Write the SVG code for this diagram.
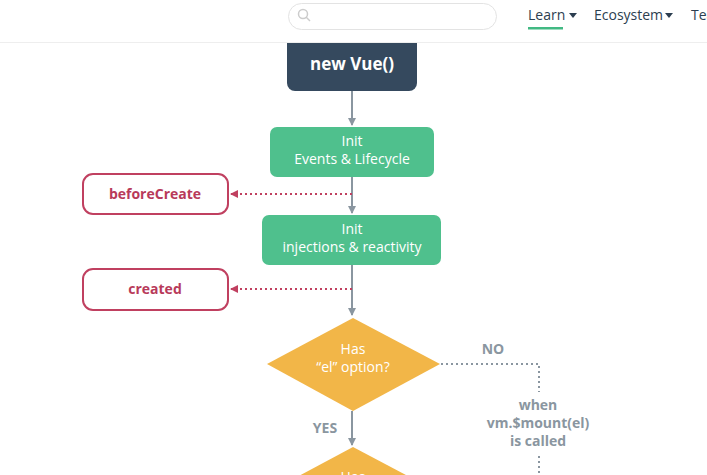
<svg xmlns="http://www.w3.org/2000/svg" width="707" height="475" viewBox="0 0 707 475">
<style>
text{font-family:"Open Sans","Noto Sans",sans-serif;text-anchor:middle}
.w{fill:#fff;font-size:14px}
.hook{fill:#fff;stroke:#c04060;stroke-width:2}
.hk{fill:#b83a5a;font-size:14px;font-weight:bold}
.g{fill:#4fc08d}
.ln{stroke:#8a96a0;stroke-width:2;fill:none}
.dl{stroke:#c04060;stroke-width:2;stroke-dasharray:2 3;fill:none}
.gd{stroke:#8a96a0;stroke-width:2;stroke-dasharray:2 3;fill:none}
.lbl{fill:#8a96a0;font-size:14px;font-weight:bold}
</style>
<defs>
<marker id="a" markerWidth="8" markerHeight="8" refX="7" refY="4" orient="auto" markerUnits="userSpaceOnUse"><path d="M0,0L8,4L0,8z" fill="#8a96a0"/></marker>
<marker id="r" markerWidth="8" markerHeight="8" refX="7" refY="4" orient="auto" markerUnits="userSpaceOnUse"><path d="M0,0L8,4L0,8z" fill="#c04060"/></marker>
</defs>
<rect width="707" height="475" fill="#fff"/>
<g id="connectors">
<path class="ln" d="M352,91V125" marker-end="url(#a)"/>
<path class="ln" d="M352,177V213" marker-end="url(#a)"/>
<path class="ln" d="M352,265V315" marker-end="url(#a)"/>
<path class="ln" d="M352,411V445" marker-end="url(#a)"/>
<path class="dl" d="M352,194H231" marker-end="url(#r)"/>
<path class="dl" d="M352,289H231" marker-end="url(#r)"/>
<path class="gd" d="M441,364H539V392"/>
<path class="gd" d="M539,456V475"/>
<text class="lbl" x="493" y="354">NO</text>
<text class="lbl" x="325" y="433">YES</text>
<text class="lbl" x="538" y="410">when</text>
<text class="lbl" x="538" y="428">vm.$mount(el)</text>
<text class="lbl" x="538" y="446">is called</text>
</g>
<g id="newvue"><rect x="287" y="30" width="130" height="61" rx="8" fill="#35495e"/><text x="352" y="70" fill="#fff" font-size="17" font-weight="bold">new Vue()</text></g>
<g id="init1"><rect class="g" x="270" y="127" width="164" height="50" rx="7"/><text class="w" x="352" y="146">Init</text><text class="w" x="352" y="164">Events &amp; Lifecycle</text></g>
<g id="beforeCreate"><rect class="hook" x="83" y="174" width="145" height="40" rx="10"/><text class="hk" x="155" y="199">beforeCreate</text></g>
<g id="init2"><rect class="g" x="262" y="215" width="179" height="50" rx="7"/><text class="w" x="352" y="234">Init</text><text class="w" x="352" y="252">injections &amp; reactivity</text></g>
<g id="created"><rect class="hook" x="83" y="269" width="145" height="41" rx="10"/><text class="hk" x="155" y="294">created</text></g>
<g id="hasEl"><path d="M353,318L440,364L353,411L267,364z" fill="#f2b648"/><text class="w" x="353" y="354">Has</text><text class="w" x="353" y="372">“el” option?</text></g>
<g id="hasTemplate"><path d="M353,447L440,493L353,540L267,493z" fill="#f2b648"/><text class="w" x="353" y="482">Has</text></g>
<g id="nav">
<rect x="0" y="0" width="707" height="42" fill="#fff"/>
<line x1="0" y1="42.5" x2="707" y2="42.5" stroke="#eee"/>
<rect x="288.5" y="3.5" width="208" height="26" rx="13" fill="#fff" stroke="#e3e3e3"/>
<circle cx="303" cy="14" r="4.5" fill="none" stroke="#ccc" stroke-width="1.5"/><path d="M306,17L310,21" stroke="#ccc" stroke-width="1.5"/>
<text x="528" y="20" font-size="14" fill="#2c3e50" style="text-anchor:start">Learn</text>
<path d="M569,13L577,13L573,18z" fill="#2c3e50"/>
<rect x="528" y="27" width="35" height="2.5" fill="#42b983"/>
<text x="594" y="20" font-size="14" fill="#2c3e50" style="text-anchor:start">Ecosystem</text>
<path d="M665,13L673,13L669,18z" fill="#2c3e50"/>
<text x="691" y="20" font-size="14" fill="#2c3e50" style="text-anchor:start">Team</text>
</g>
</svg>
